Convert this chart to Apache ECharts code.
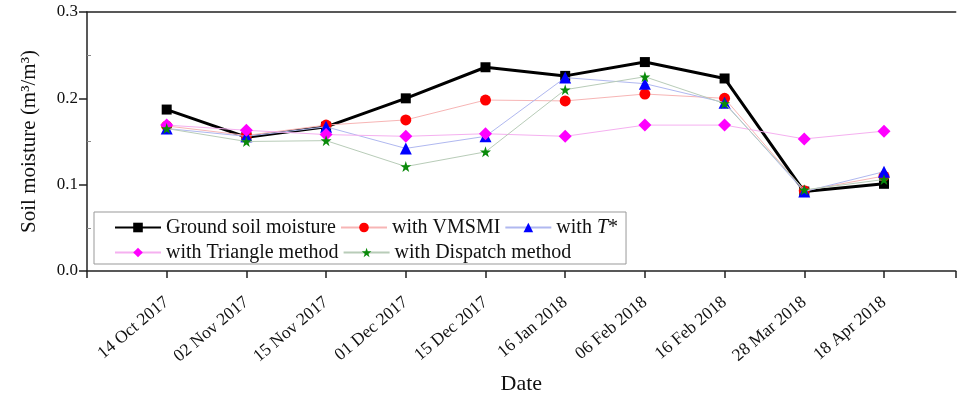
<!DOCTYPE html>
<html>
<head>
<meta charset="utf-8">
<script src="https://cdn.jsdelivr.net/npm/echarts@6/dist/echarts.min.js"></script>
<style>
  html, body { margin: 0; padding: 0; background: #fff; }
  #chart { width: 958px; height: 400px; }
</style>
</head>
<body>
<div id="chart"></div>
<script>
// Sampling dates (x axis categories)
const dates = ['14 Oct 2017', '02 Nov 2017', '15 Nov 2017', '01 Dec 2017', '15 Dec 2017',
               '16 Jan 2018', '06 Feb 2018', '16 Feb 2018', '28 Mar 2018', '18 Apr 2018'];

// Soil moisture (m3/m3) per date
const groundSM   = [0.187, 0.155, 0.167, 0.200, 0.236, 0.226, 0.242, 0.223, 0.092, 0.101];
const vmsmiSM    = [0.168, 0.157, 0.169, 0.175, 0.198, 0.197, 0.205, 0.200, 0.093, 0.110];
const tStarSM    = [0.165, 0.156, 0.167, 0.142, 0.156, 0.224, 0.217, 0.195, 0.092, 0.115];
const triangleSM = [0.169, 0.163, 0.158, 0.156, 0.159, 0.156, 0.169, 0.169, 0.153, 0.162];
const dispatchSM = [0.165, 0.150, 0.151, 0.121, 0.138, 0.210, 0.225, 0.194, 0.094, 0.106];

// Y axis tick labels (major) and minor tick positions
const yTicks = ['0.0', '0.1', '0.2', '0.3'];
const yMajor = [0, 0.1, 0.2, 0.3];
const yMinor = [0.05, 0.15, 0.25];

const SERIF = '"Liberation Serif", "DejaVu Serif", serif';
const AXIS = '#222';

const pts = arr => arr.map((v, i) => [i, v]);

function lineSeries(name, data, symbol, size, color, lineColor, width, z) {
  return {
    name: name,
    type: 'line',
    xAxisIndex: 0,
    yAxisIndex: 0,
    data: pts(data),
    symbol: symbol,
    symbolSize: size,
    itemStyle: { color: color },
    lineStyle: { color: lineColor, width: width },
    z: z,
    animation: false
  };
}

const starPath = 'path://M50,0 L61.8,35.4 L99,35.4 L69,57.3 L80.4,92.7 L50,70.8 L19.6,92.7 L31,57.3 L1,35.4 L38.2,35.4 Z';

const chart = echarts.init(document.getElementById('chart'), null, { renderer: 'canvas' });

const legendText = { fontFamily: SERIF, fontSize: 20, color: '#111', lineHeight: 21 };

chart.setOption({
  backgroundColor: '#fff',
  animation: false,
  grid: { left: 87, top: 12, bottom: 128, right: 0, show: false },
  legend: {
    left: 94, top: 212, width: 515,
    orient: 'horizontal',
    padding: [5, 8, 1, 20],
    itemGap: 4,
    itemWidth: 46, itemHeight: 12,
    backgroundColor: '#fff',
    borderColor: '#999', borderWidth: 1,
    textStyle: Object.assign({}, legendText, {
      rich: {
        n: legendText,
        i: Object.assign({}, legendText, { fontStyle: 'italic' })
      }
    }),
    formatter: name => name === 'with T*' ? '{n|with }{i|T}{n|*}' : name,
    data: ['Ground soil moisture', 'with VMSMI', 'with T*', 'with Triangle method', 'with Dispatch method']
  },
  xAxis: [{
    type: 'value', min: -1, max: 9.9, interval: 1,
    name: 'Date', nameLocation: 'middle', nameGap: 102,
    nameTextStyle: { fontFamily: SERIF, fontSize: 22, color: '#111' },
    axisLine: { show: true, onZero: false, lineStyle: { color: AXIS, width: 1.5 } },
    axisTick: { show: true, length: 7, lineStyle: { color: AXIS, width: 1.5 } },
    splitLine: { show: false },
    axisLabel: {
      rotate: 40, margin: 29,
      fontFamily: SERIF, fontSize: 17.5, color: '#111',
      showMinLabel: true, showMaxLabel: true,
      formatter: v => (Number.isInteger(v) && v >= 0 && v < dates.length) ? dates[v] : ''
    }
  }, {
    // top frame line
    type: 'value', position: 'top', min: -1, max: 9.9,
    axisLine: { show: true, onZero: false, lineStyle: { color: AXIS, width: 1.5 } },
    axisTick: { show: false }, axisLabel: { show: false }, splitLine: { show: false }
  }],
  yAxis: [{
    type: 'value', min: 0, max: 0.3, interval: 0.1,
    name: 'Soil moisture (m³/m³)', nameLocation: 'middle', nameGap: 47,
    nameTextStyle: { fontFamily: SERIF, fontSize: 21, color: '#111' },
    axisLine: { show: true, onZero: false, lineStyle: { color: AXIS, width: 1.5 } },
    axisTick: { show: true, length: 8, customValues: yMajor, lineStyle: { color: AXIS, width: 1.5 } },
    splitLine: { show: false },
    axisLabel: {
      margin: 9, fontFamily: SERIF, fontSize: 17, color: '#111',
      customValues: yMajor,
      formatter: v => yTicks[Math.round(v * 10)]
    }
  }, {
    // minor inward ticks
    type: 'value', position: 'left', min: 0, max: 0.3,
    axisLine: { show: false, onZero: false },
    axisTick: { show: true, inside: true, length: 4, customValues: yMinor, lineStyle: { color: '#888', width: 1 } },
    axisLabel: { show: false }, splitLine: { show: false }
  }],
  series: [
    lineSeries('Ground soil moisture', groundSM, 'rect', 10, '#000', '#000', 3, 2),
    lineSeries('with VMSMI', vmsmiSM, 'circle', 11, '#ff0000', '#f7b5b5', 1, 3),
    lineSeries('with T*', tStarSM, 'triangle', 12, '#0000ff', '#b0b8f0', 1, 4),
    lineSeries('with Triangle method', triangleSM, 'diamond', 13, '#ff00ff', '#f5b0f0', 1, 5),
    lineSeries('with Dispatch method', dispatchSM, starPath, 11, '#0a8a0a', '#b8ccb8', 1, 6)
  ]
});
</script>
</body>
</html>
